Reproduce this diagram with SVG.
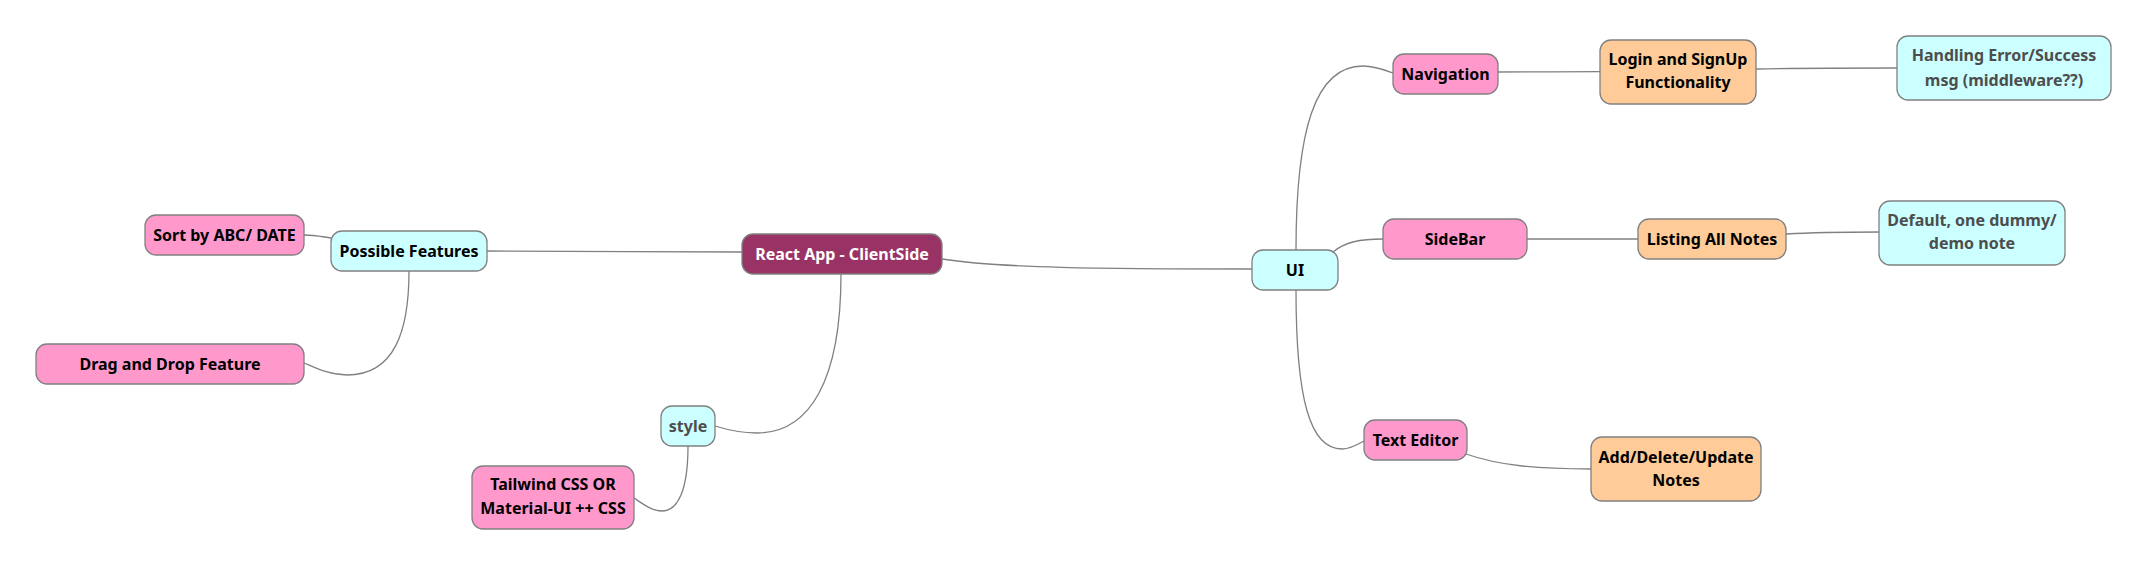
<svg xmlns="http://www.w3.org/2000/svg" width="2148" height="567" viewBox="0 0 2148 567">
<style>
.n rect{stroke:#808080;stroke-width:1.3}
.pink rect{fill:#ff99cc}
.cyan rect{fill:#ccffff}
.orange rect{fill:#ffcc99}
.root rect{fill:#993366}
text{font-family:"Noto Sans","DejaVu Sans",sans-serif;font-weight:bold;font-size:16px;text-anchor:middle;fill:#000}
.grey text{fill:#4d4d4d}
.root text{fill:#ffffff}
#connectors path{fill:none;stroke:#808080;stroke-width:1.3}
</style>
<rect width="2148" height="567" fill="#ffffff"/>
<g id="connectors">
<path d="M487,251 C600,251 640,252 742,252"/>
<path d="M331,238 C318,236 314,235 304,235"/>
<path d="M409,271 C409,330 395,375 347,375 C330,375 316,368 304,363"/>
<path d="M841,274 C841,380 810,433 757,433 C740,433 728,430 715,426"/>
<path d="M688,446 C688,490 678,511 662,511 C652,511 643,504 634,498"/>
<path d="M942,259 C1000,268 1100,269 1252,269"/>
<path d="M1296,250 C1296,130 1315,66 1363,66 C1375,66 1385,70 1393,73"/>
<path d="M1333,252 C1345,242 1360,239 1383,239"/>
<path d="M1296,290 C1296,400 1310,449 1342,449 C1350,449 1357,445 1364,441"/>
<path d="M1498,72 C1540,72 1560,71.7 1600,71.7"/>
<path d="M1756,69 C1800,68 1850,68 1897,68"/>
<path d="M1527,239 L1638,239"/>
<path d="M1786,234 C1820,232 1850,232 1879,232"/>
<path d="M1466,454 C1500,466 1540,469 1591,469"/>
</g>
<g id="sort" class="n pink"><rect x="145" y="215" width="159" height="40" rx="11"/><text x="224.5" y="240.5">Sort by ABC/ DATE</text></g>
<g id="possible" class="n cyan"><rect x="331" y="231" width="156" height="40" rx="11"/><text x="409" y="256.5">Possible Features</text></g>
<g id="dragdrop" class="n pink"><rect x="36" y="344" width="268" height="40" rx="11"/><text x="170" y="369.5">Drag and Drop Feature</text></g>
<g id="root" class="n root"><rect x="742" y="234" width="200" height="40" rx="11"/><text x="842" y="259.5">React App - ClientSide</text></g>
<g id="style" class="n cyan grey"><rect x="661" y="406" width="54" height="40" rx="11"/><text x="688" y="431.5">style</text></g>
<g id="tailwind" class="n pink"><rect x="472" y="466" width="162" height="63" rx="11"/><text x="553" y="490">Tailwind CSS OR</text><text x="553" y="513.5">Material-UI ++ CSS</text></g>
<g id="ui" class="n cyan"><rect x="1252" y="250" width="86" height="40" rx="11"/><text x="1295" y="275.5">UI</text></g>
<g id="navigation" class="n pink"><rect x="1393" y="54" width="105" height="40" rx="11"/><text x="1445.5" y="79.5">Navigation</text></g>
<g id="sidebar" class="n pink"><rect x="1383" y="219" width="144" height="40" rx="11"/><text x="1455" y="244.5">SideBar</text></g>
<g id="texteditor" class="n pink"><rect x="1364" y="420" width="103" height="40" rx="11"/><text x="1415.5" y="445.5">Text Editor</text></g>
<g id="login" class="n orange"><rect x="1600" y="40" width="156" height="64" rx="11"/><text x="1678" y="65">Login and SignUp</text><text x="1678" y="88">Functionality</text></g>
<g id="listing" class="n orange"><rect x="1638" y="219" width="148" height="40" rx="11"/><text x="1712" y="244.5">Listing All Notes</text></g>
<g id="adddelete" class="n orange"><rect x="1591" y="437" width="170" height="64" rx="11"/><text x="1676" y="462.5">Add/Delete/Update</text><text x="1676" y="486">Notes</text></g>
<g id="handling" class="n cyan grey"><rect x="1897" y="36" width="214" height="64" rx="11"/><text x="2004" y="61">Handling Error/Success</text><text x="2004" y="85.5">msg (middleware??)</text></g>
<g id="default" class="n cyan grey"><rect x="1879" y="201" width="186" height="64" rx="11"/><text x="1972" y="225.5">Default, one dummy/</text><text x="1972" y="249">demo note</text></g>
</svg>
